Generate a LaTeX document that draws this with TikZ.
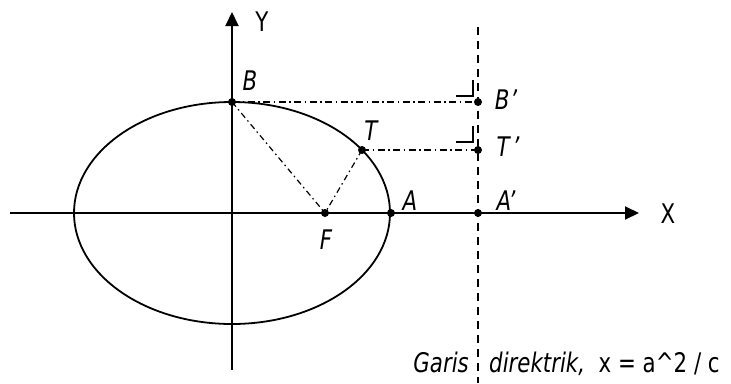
\documentclass[tikz,border=0pt]{standalone}
\usepackage{fontspec}
\setmainfont{DejaVu Sans}[FakeStretch=0.79]
\usetikzlibrary{arrows.meta}
\begin{document}
\begin{tikzpicture}[x=1pt,y=-1pt,
  axis/.style={line width=2pt,-{Triangle[length=14pt,width=13pt]}},
  dot/.style={circle,fill=black,inner sep=0pt,minimum size=8pt},
  lbl/.style={inner sep=0pt,font=\fontsize{27}{32}\selectfont\itshape},
  axlbl/.style={inner sep=0pt,font=\fontsize{27}{32}\selectfont},
  dashdotline/.style={line width=1.5pt,dash pattern=on 7pt off 3.5pt on 1.5pt off 3.5pt},
  thinDD/.style={line width=1.2pt,dash pattern=on 6pt off 3.5pt on 1.5pt off 3.5pt},
  directrix/.style={line width=1.7pt,dash pattern=on 7.5pt off 6.5pt},
  marker/.style={line width=1.6pt}]
\useasboundingbox (0,0) rectangle (731,383);
% axes
\coordinate (xs) at (10,213);
\coordinate (xe) at (639,213);
\coordinate (ys) at (232,370);
\coordinate (ye) at (232,12);
\coordinate (O) at (232,213);
\draw[axis] (xs) -- (xe);
\draw[axis] (ys) -- (ye);
\node[axlbl] (Xl) at (668,214) {X};
\node[axlbl] (Yl) at (262,22) {Y};
% ellipse
\draw[line width=1.8pt] (O) ellipse [x radius=158, y radius=111];
% directrix
\coordinate (dt) at (478,27);
\coordinate (db) at (478,383);
\draw[directrix] (dt) -- (db);
% points
\node[dot] (B) at (232,102) {};
\node[dot] (T) at (362,150) {};
\node[dot] (F) at (325,213) {};
\node[dot] (A) at (391,213) {};
\node[dot] (Bp) at (478,102) {};
\node[dot] (Tp) at (478,150) {};
\node[dot] (Ap) at (478,213) {};
% connectors
\draw[dashdotline] (B.center) -- (Bp.center);
\draw[dashdotline] (T.center) -- (Tp.center);
\draw[thinDD] (B.center) -- (F.center);
\draw[thinDD] (T.center) -- (F.center);
% right-angle markers
\coordinate (m1a) at (456,96);
\coordinate (m1b) at (473,96);
\coordinate (m1c) at (473,80);
\draw[marker] (m1a) -- (m1b) -- (m1c);
\coordinate (m2a) at (456,142);
\coordinate (m2b) at (473,142);
\coordinate (m2c) at (473,126);
\draw[marker] (m2a) -- (m2b) -- (m2c);
% labels
\node[lbl] (Bl) at (250,81) {B};
\node[lbl] (Tl) at (371,131) {T};
\node[lbl] (Al) at (410,201) {A};
\node[lbl] (Fl) at (326,240) {F};
\node[lbl] (Bpl) at (506,100) {B\kern1pt\textquoteright};
\node[lbl] (Tpl) at (508,147) {T\kern3pt\textquoteright};
\node[lbl] (Apl) at (506,201) {A\textquoteright};
% directrix caption
\node[lbl,anchor=base east] (g1) at (469,372) {Garis};
\node[axlbl,anchor=base west] (g2) at (489,372) {\itshape direktrik,\upshape\ \ x = a\^{}2 / c};
\end{tikzpicture}
\end{document}
